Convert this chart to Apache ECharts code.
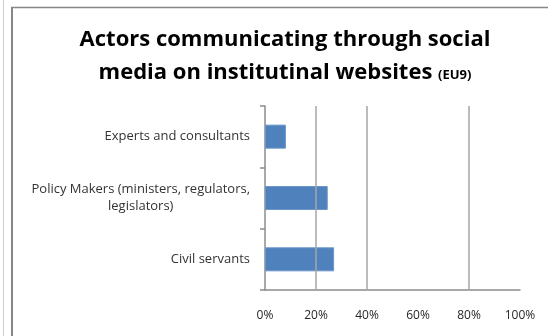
<!DOCTYPE html>
<html>
<head>
<meta charset="utf-8">
<script src="https://cdn.jsdelivr.net/npm/echarts@6/dist/echarts.min.js"></script>
<style>
  html, body { margin: 0; padding: 0; background: #fff; }
  #chart { width: 548px; height: 336px; }
</style>
</head>
<body>
<div id="chart"></div>
<script>
// Share of institutional websites where each actor type communicates via social media
const categories = [
  'Experts and consultants',
  'Policy Makers (ministers, regulators,\nlegislators)',
  'Civil servants'
];
const shares = [8.2, 24.6, 27.1];
const gridLinesAt = [20, 40, 80];
const tickValues = [0, 20, 40, 60, 80, 100];

const chart = echarts.init(document.getElementById('chart'), null, { renderer: 'canvas' });

const titleFont = '"Open Sans", sans-serif';
const labelFont = '"Open Sans", sans-serif';

chart.setOption({
  animation: false,
  backgroundColor: '#ffffff',
  title: {
    left: 280,
    top: 18,
    textAlign: 'center',
    text: '{a|Actors communicating through social}\n{a|media on institutinal websites }{b|(EU9)}',
    textStyle: {
      rich: {
        a: { fontFamily: titleFont, fontWeight: 'bold', fontSize: 22, color: '#000', lineHeight: 33 },
        b: { fontFamily: titleFont, fontWeight: 'bold', fontSize: 13, color: '#000', lineHeight: 33, padding: [5, 0, 0, 0] }
      }
    }
  },
  graphic: [
    { type: 'line', shape: { x1: 3.5, y1: 0, x2: 3.5, y2: 336 }, style: { stroke: '#cfcfcf', lineWidth: 1 } },
    { type: 'line', shape: { x1: 12, y1: 7, x2: 12, y2: 336 }, style: { stroke: '#878787', lineWidth: 2 } },
    { type: 'line', shape: { x1: 11, y1: 7.5, x2: 548, y2: 7.5 }, style: { stroke: '#878787', lineWidth: 1.5 } }
  ],
  grid: { left: 265, right: 28, top: 106, bottom: 46, containLabel: false },
  xAxis: {
    type: 'value',
    min: 0,
    max: 100,
    interval: 20,
    axisLine: { show: true, lineStyle: { color: '#8c8c8c', width: 1.5 } },
    axisTick: { show: false },
    splitLine: { show: false },
    axisLabel: {
      margin: 20,
      fontFamily: labelFont,
      fontSize: 12,
      color: '#262626',
      formatter: v => tickValues.includes(v) ? v + '%' : ''
    }
  },
  yAxis: {
    type: 'category',
    inverse: true,
    data: categories,
    axisLine: { show: true, lineStyle: { color: '#8c8c8c', width: 1.5 } },
    axisTick: { show: true, length: 5, lineStyle: { color: '#8c8c8c', width: 1.5 } },
    axisLabel: {
      margin: 15,
      fontFamily: labelFont,
      fontSize: 13,
      color: '#333',
      lineHeight: 17,
      formatter: v => v.split('\n').map(s => '{c|' + s + '}').join('\n'),
      rich: { c: { align: 'center', fontFamily: labelFont, fontSize: 13, color: '#333', lineHeight: 17 } }
    }
  },
  series: [
    {
      // carries the vertical gridlines, kept underneath the bars
      type: 'line',
      data: [],
      z: 1,
      markLine: {
        silent: true,
        symbol: 'none',
        label: { show: false },
        lineStyle: { color: '#a6a6a6', type: 'solid', width: 1.5 },
        data: gridLinesAt.map(v => ({ xAxis: v }))
      }
    },
    {
      type: 'bar',
      data: shares,
      barWidth: 24,
      itemStyle: { color: '#4F81BD', borderColor: '#6a95c8', borderWidth: 1 },
      z: 3
    }
  ]
});
</script>
</body>
</html>
